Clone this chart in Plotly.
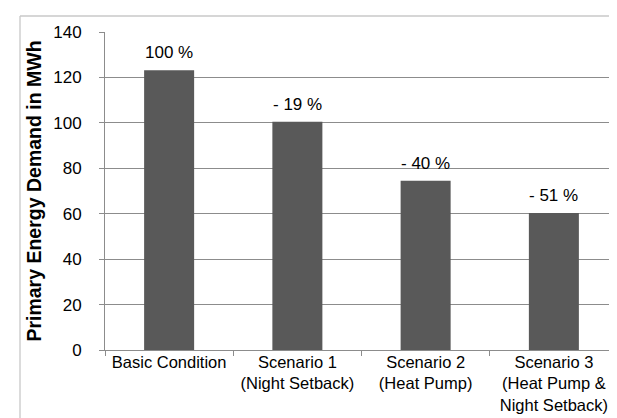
import plotly.graph_objects as go

categories = ["Basic Condition", "Scenario 1<br>(Night Setback)", "Scenario 2<br>(Heat Pump)",
              "Scenario 3<br>(Heat Pump &<br>Night Setback)"]
values = [123.2, 100.5, 74.5, 60.3]
labels = ["100 %", "- 19 %", "- 40 %", "- 51 %"]
y_ticks = [0, 20, 40, 60, 80, 100, 120, 140]

W, H = 617, 418
L, R, T, B = 97, 7, 24, 76
pw, ph = W - L - R, H - T - B

fig = go.Figure()
fig.add_trace(go.Bar(x=categories, y=values, marker=dict(color="#595959", line=dict(width=0)),
                     width=0.39, hoverinfo="skip"))

for c, v, t in zip(categories, values, labels):
    fig.add_annotation(x=c, y=v, text=t, showarrow=False, yanchor="bottom", yshift=6,
                       font=dict(size=17, color="#000000", family="Liberation Sans, Arial"))

def px_x(p):
    return (p - L) / pw

def px_y(p):
    return (H - B - p) / ph

# outer frame (top and left edges)
fig.add_shape(type="line", xref="paper", yref="paper", x0=px_x(12), x1=px_x(617), y0=px_y(8), y1=px_y(8),
              line=dict(color="#c8c8c8", width=1.3))
fig.add_shape(type="line", xref="paper", yref="paper", x0=px_x(12), x1=px_x(12), y0=px_y(8), y1=px_y(418),
              line=dict(color="#c8c8c8", width=1.3))

fig.update_layout(
    width=W, height=H,
    margin=dict(l=L, r=R, t=T, b=B),
    paper_bgcolor="white", plot_bgcolor="white",
    showlegend=False,
    font=dict(family="Liberation Sans, Arial", size=17, color="#000000"),
)
fig.update_xaxes(type="category", tickson="boundaries", ticks="outside", ticklen=5, tickcolor="#8c8c8c",
                 showline=True, linecolor="#8c8c8c", linewidth=1, showgrid=False,
                 tickfont=dict(size=16.5), tickangle=0, ticklabelstandoff=-3)
fig.update_yaxes(range=[0, 140], tickvals=y_ticks, ticks="outside", ticklen=5, tickcolor="#8c8c8c",
                 showline=True, linecolor="#8c8c8c", linewidth=1, showgrid=True, gridcolor="#8c8c8c",
                 gridwidth=1, zeroline=False, tickfont=dict(size=17), ticklabelstandoff=14,
                 title=dict(text="<b>Primary Energy Demand in MWh</b>", font=dict(size=19.5), standoff=6))

fig.write_html("out.html")
